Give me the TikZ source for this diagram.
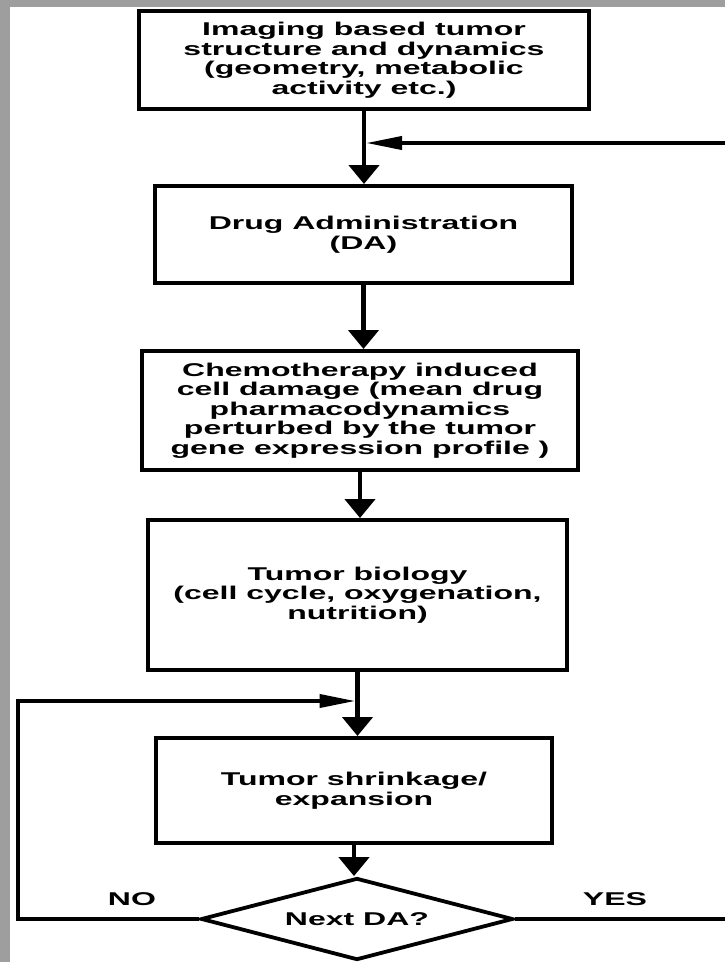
\documentclass[tikz,border=0pt]{standalone}
\usepackage{fontspec}
\setmainfont{Liberation Sans}[FakeStretch=1.73]
\usetikzlibrary{arrows.meta,shapes.geometric}
\definecolor{framegray}{RGB}{158,158,158}
\tikzset{
    box/.style={draw, line width=4pt, align=center, inner sep=0pt,
        font=\fontsize{18.5}{19.5}\selectfont\bfseries},
    decision/.style={diamond, draw, line width=3.8pt, aspect=3.9, inner sep=0pt,
        minimum width=312pt, minimum height=82pt,
        font=\fontsize{18.5}{19.5}\selectfont\bfseries},
    answer/.style={font=\fontsize{18.5}{19.5}\selectfont\bfseries},
    flow/.style={line width=4.5pt, -{Triangle[length=19pt,width=30pt]}},
    back/.style={line width=3.8pt, -{Triangle[length=36pt,width=13pt]}}
}
\begin{document}
\begin{tikzpicture}[x=1pt,y=-1pt]
    % page and grey frame
    \useasboundingbox (0,0) rectangle (725,962);
    \fill[framegray] (0,0) rectangle (725,7);
    \fill[framegray] (0,0) rectangle (10,962);
    % steps
    \node[box, minimum width=450pt, minimum height=98pt] (imaging) at (364,60)
        {Imaging based tumor\\structure and dynamics\\(geometry, metabolic\\activity etc.)};
    \node[box, minimum width=417pt, minimum height=97pt] (drug) at (363.5,234.5)
        {Drug Administration\\(DA)};
    \node[box, minimum width=436pt, minimum height=119pt] (chemo) at (360,410.5)
        {Chemotherapy induced\\cell damage (mean drug\\pharmacodynamics\\perturbed by the tumor\\gene expression profile )};
    \node[box, minimum width=419pt, minimum height=150pt] (biology) at (357.5,595)
        {Tumor biology\\(cell cycle, oxygenation,\\nutrition)};
    \node[box, minimum width=396pt, minimum height=105pt] (shrink) at (354,790.5)
        {Tumor shrinkage/\\expansion};
    \node[decision] (nextda) at (357,919) {Next DA?};
    \node[answer] (no) at (132,899) {NO};
    \node[answer] (yes) at (615,899) {YES};
    % joins and rails of the loops
    \coordinate (toplevel) at (0,143);
    \coordinate (lowlevel) at (0,701);
    \coordinate (topjoin) at (imaging.south |- toplevel);
    \coordinate (lowjoin) at (biology.south |- lowlevel);
    \coordinate (leftrail) at (18,0);
    \coordinate (rightrail) at (745,0);
    % main flow
    \draw[flow] (imaging.south) -- (imaging.south |- drug.north);
    \draw[flow] (drug.south) -- (drug.south |- chemo.north);
    \draw[flow] (chemo.south) -- (chemo.south |- biology.north);
    \draw[flow] (biology.south) -- (biology.south |- shrink.north);
    \draw[flow] (shrink.south) -- (shrink.south |- nextda.north);
    % loops back
    \draw[back] (nextda.west) -| (leftrail |- lowjoin) -- ([xshift=-2pt]lowjoin);
    \draw[back] (nextda.east) -| (rightrail |- topjoin) -- ([xshift=2pt]topjoin);
\end{tikzpicture}
\end{document}
